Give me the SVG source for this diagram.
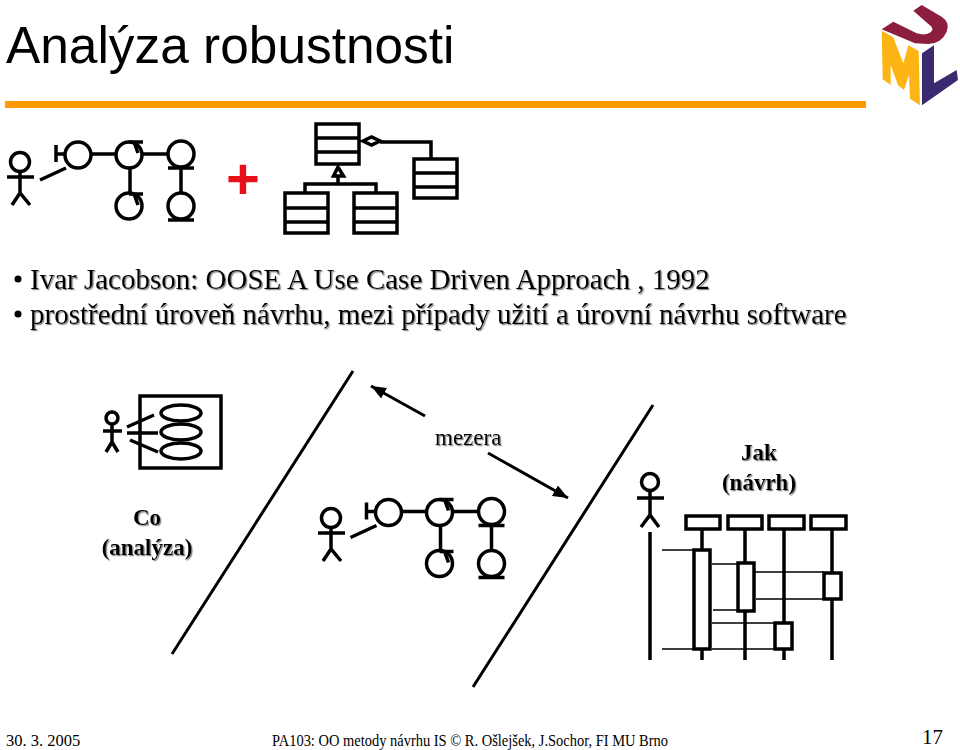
<svg xmlns="http://www.w3.org/2000/svg" width="960" height="750" viewBox="0 0 960 750">
<style>
text{font-family:"Liberation Serif","Times New Roman",serif;fill:#000}
.title{font-family:"Liberation Sans",Arial,sans-serif;font-size:51.400px}
.plus{font-family:"Liberation Sans",Arial,sans-serif;font-size:58px;font-weight:bold;fill:#e8101a}
.body{font-size:29px;filter:url(#sh)}
.lab{font-size:23px;filter:url(#sh)}
.b{font-weight:bold;text-anchor:middle}
.foot{font-size:16.500px}
.ln,.ln *{fill:none;stroke:#000;stroke-width:3.500}
.box,.box *{fill:#fff;stroke:#000;stroke-width:3.500}
.thin{fill:none;stroke:#000;stroke-width:1.600}
.con{fill:none;stroke:#000;stroke-width:3}
</style>
<defs>
<filter id="sh" x="-5%" y="-20%" width="110%" height="150%"><feDropShadow dx="1.2" dy="1.2" stdDeviation="0.5" flood-color="#888"/></filter>
<marker id="ah" markerUnits="userSpaceOnUse" markerWidth="16" markerHeight="12" refX="15" refY="6" orient="auto"><path d="M0 0L15 6L0 12Z" fill="#000"/></marker>
<g id="actor" class="ln"><circle cx="20" cy="162" r="9.500"/><path d="M7 177H34M20 171.500V193M12 205L20 193L30 205"/></g>
<g id="robust" class="ln">
<path d="M40 180L66 168"/>
<circle cx="78" cy="155" r="13"/><path d="M56 145V162M56 154H65M91 154H116"/>
<circle cx="129" cy="155" r="13"/><path d="M129 142H143M134 142L138 153M142 154H168"/>
<circle cx="181" cy="154" r="13"/><path d="M168 168H194M181 168V193M130 168V193"/>
<circle cx="129" cy="206" r="13"/><path d="M129 194H143M134 194L138 205"/>
<circle cx="181" cy="206" r="13"/><path d="M168 220H194"/>
</g>
</defs>

<g id="header">
<text class="title" x="6" y="63">Analýza robustnosti</text>
<rect x="5" y="101" width="861" height="7" fill="#ff9a00"/>
</g>
<g id="uml-logo" transform="translate(800,0) scale(0.3333)">
<path fill="#8c1f3f" d="M340 32L365 15L425 50Q452 68 440 95Q425 130 385 132L345 130L245 88L280 65L350 100Q378 108 393 96Q405 85 385 72Z"/>
<path fill="#fdb515" d="M245 92L280 112L310 190L325 136L356 153L360 316L330 296L327 225L312 270L294 256L272 195L272 255L248 238Z"/>
<path fill="#3b2a70" d="M366 160L402 136L402 250L470 210L474 240L366 316Z"/>
</g>

<use id="actor-1" href="#actor"/>
<use id="robust-1" href="#robust"/>
<text id="plus" class="plus" x="226" y="199">+</text>

<g id="class-top" class="ln"><rect x="316" y="124" width="43" height="40"/><path d="M316 138H359M316 152H359"/></g>
<g id="class-right" class="ln"><rect x="414" y="159" width="43" height="39"/><path d="M414 173H457M414 187H457"/></g>
<g id="class-left" class="ln"><rect x="285" y="193" width="43" height="40"/><path d="M285 208H328M285 222H328"/></g>
<g id="class-mid" class="ln"><rect x="354" y="193" width="43" height="40"/><path d="M354 208H397M354 222H397"/></g>
<g id="class-connectors" class="ln"><path d="M380 142H431V159M338 176V184M305 193V184H376V193"/></g>
<g class="ln"><path d="M363 141L371.500 137L380 141L371.500 145Z"/><path d="M338 167L333.500 176H343.500Z"/></g>

<g id="bullets">
<circle cx="18" cy="279" r="3.500"/>
<text class="body" x="30" y="289">Ivar Jacobson: OOSE A Use Case Driven Approach , 1992</text>
<circle cx="18" cy="314" r="3.500"/>
<text class="body" x="30" y="324">prostřední úroveň návrhu, mezi případy užití a úrovní návrhu software</text>
</g>

<g id="usecase" class="ln">
<rect x="140" y="396" width="81" height="72"/>
<ellipse cx="181" cy="413" rx="20" ry="8"/><ellipse cx="181" cy="432" rx="20" ry="8"/><ellipse cx="181" cy="451" rx="20" ry="8"/>
<circle cx="112" cy="418" r="6"/><path d="M103 431H122M112 424V442M106 452L112 442L118 452M127 427L154 415M127 433H158M130 440L158 452"/>
</g>
<g id="label-co"><text class="lab b" x="147" y="525">Co</text><text class="lab b" x="147" y="555">(analýza)</text></g>

<g id="connectors">
<path class="con" d="M353 371L172 654M653 405L473 687"/>
<path class="con" d="M425 416L371 386" marker-end="url(#ah)"/>
<path class="con" d="M488 453L568 498" marker-end="url(#ah)"/>
</g>
<text id="mezera" class="lab" x="435" y="445">mezera</text>

<use id="actor-2" href="#actor" transform="translate(311,356)"/>
<use id="robust-2" href="#robust" transform="translate(310.500,357.500)"/>

<g id="label-jak"><text class="lab b" x="759" y="460">Jak</text><text class="lab b" x="759" y="490">(návrh)</text></g>

<g id="sequence">
<g class="ln"><circle cx="650" cy="482" r="8.500"/><path d="M637 498H664M650 490.500V515M641 527L650 515L659 527M650 532V660M702 529V660M745 529V660M784 529V660M832 529V660"/></g>
<g class="box">
<rect x="686" y="516" width="34" height="13"/><rect x="728" y="516" width="34" height="13"/><rect x="769" y="516" width="35" height="13"/><rect x="811" y="516" width="35" height="13"/>
<rect x="694" y="550" width="16" height="99"/><rect x="738" y="563" width="16" height="48"/><rect x="824" y="573" width="17" height="26"/><rect x="775" y="623" width="17" height="26"/>
</g>
<path class="thin" d="M662 550H694M712 564H738M754 572H824M756 599H824M713 610H738M712 623H775M662 649H694M712 649H775"/>
</g>

<g id="footer">
<text class="foot" x="6" y="746">30. 3. 2005</text>
<text class="foot" x="272" y="746" textLength="396" lengthAdjust="spacingAndGlyphs">PA103: OO metody návrhu IS © R. Ošlejšek, J.Sochor, FI MU Brno</text>
<text x="922" y="744" font-size="21">17</text>
</g>
</svg>
